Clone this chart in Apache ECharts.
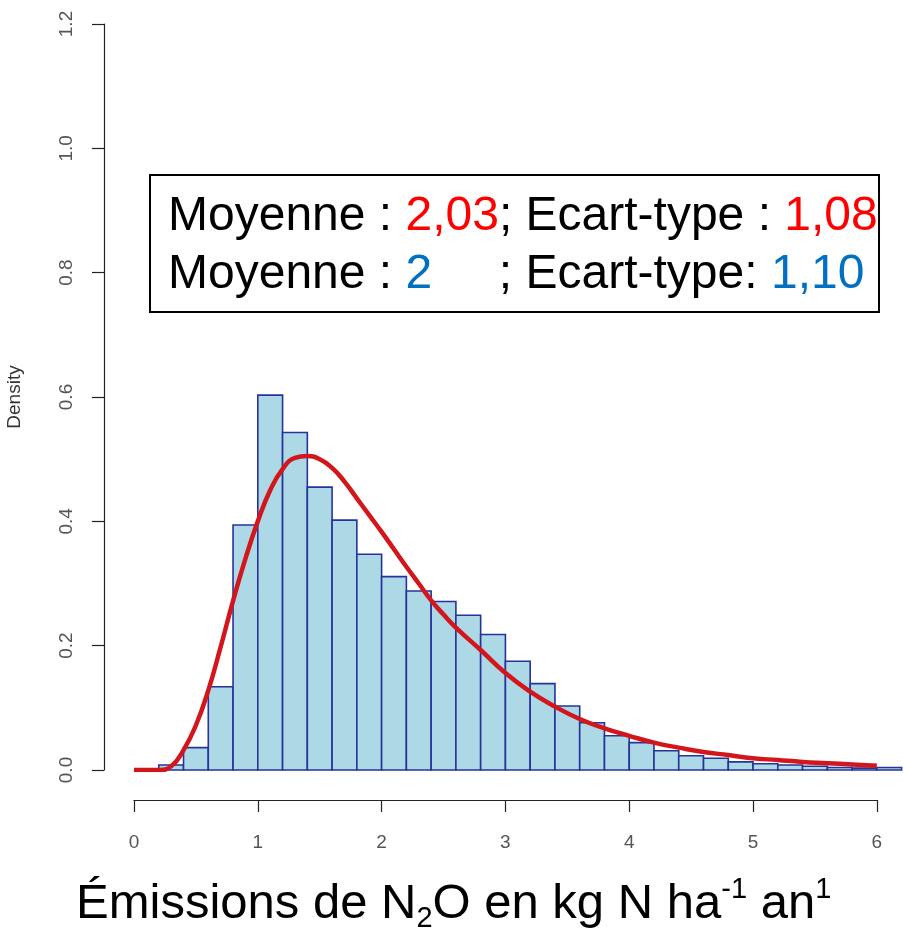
<!DOCTYPE html>
<html>
<head>
<meta charset="utf-8">
<script src="https://cdn.jsdelivr.net/npm/echarts@6/dist/echarts.min.js"></script>
<style>
  html, body { margin: 0; padding: 0; background: #ffffff; }
  #chart { width: 903px; height: 934px; }
</style>
</head>
<body>
<div id="chart"></div>
<script>
// Histogram bins (left edges, width 0.2) and their densities
var binWidth = 0.2;
var binStarts = [0.2, 0.4, 0.6, 0.8, 1.0, 1.2, 1.4, 1.6, 1.8, 2.0,
                 2.2, 2.4, 2.6, 2.8, 3.0, 3.2, 3.4, 3.6, 3.8, 4.0,
                 4.2, 4.4, 4.6, 4.8, 5.0, 5.2, 5.4, 5.6, 5.8, 6.0];
var binDensity = [0.008, 0.036, 0.134, 0.394, 0.603, 0.543, 0.455, 0.402, 0.347, 0.311,
                  0.288, 0.271, 0.249, 0.218, 0.175, 0.139, 0.103, 0.076, 0.055, 0.044,
                  0.031, 0.023, 0.019, 0.013, 0.010, 0.008, 0.006, 0.004, 0.003, 0.004];

// Fitted density curve
var curveX = [0.0, 0.2, 0.3, 0.4, 0.5, 0.6, 0.7, 0.8, 0.9, 1.0,
              1.1, 1.2, 1.3, 1.4, 1.5, 1.6, 1.7, 1.8, 1.9, 2.0,
              2.1, 2.2, 2.3, 2.4, 2.5, 2.6, 2.8, 3.0, 3.2, 3.4, 3.6, 3.8,
              4.0, 4.2, 4.4, 4.6, 4.8, 5.0, 5.2, 5.4, 5.6, 5.8, 6.0];
var curveY = [0.0, 0.0, 0.006, 0.032, 0.072, 0.128, 0.198, 0.272, 0.340, 0.400,
              0.450, 0.484, 0.502, 0.505, 0.500, 0.486, 0.464, 0.437, 0.410, 0.383,
              0.355, 0.327, 0.300, 0.273, 0.250, 0.229, 0.193, 0.156, 0.126, 0.102, 0.082, 0.067,
              0.055, 0.044, 0.036, 0.029, 0.024, 0.019, 0.016, 0.013, 0.011, 0.009, 0.007];

// Axis ticks
var yTicks = [0.0, 0.2, 0.4, 0.6, 0.8, 1.0, 1.2];
var xTicks = [0, 1, 2, 3, 4, 5, 6];

var histData = binStarts.map(function (s, i) { return [s, s + binWidth, binDensity[i]]; });
var curveData = curveX.map(function (x, i) { return [x, curveY[i]]; });

var labelFont = '"Liberation Sans", Arial, sans-serif';

var chart = echarts.init(document.getElementById('chart'), null, { renderer: 'canvas' });

chart.setOption({
  backgroundColor: '#ffffff',
  animation: false,
  title: [
    {
      left: 71,
      top: 870,
      text: 'Émissions de N{sub|2}O en kg N ha{sup|-1} an{sup|1}',
      textStyle: {
        fontFamily: labelFont,
        fontSize: 49,
        fontWeight: 'normal',
        color: '#000000',
        lineHeight: 58,
        rich: {
          sub: { fontFamily: labelFont, fontSize: 29, color: '#000', verticalAlign: 'bottom', lineHeight: 58 },
          sup: { fontFamily: labelFont, fontSize: 29, color: '#000', verticalAlign: 'top', lineHeight: 58 }
        }
      }
    },
    {
      left: 150,
      top: 175,
      borderColor: '#000000',
      borderWidth: 2,
      padding: [13, 2, 8, 18],
      text: '{k|Moyenne : }{r|2,03}{k|; Ecart-type : }{r|1,08}\n{k|Moyenne : }{b|2}{k|     ; Ecart-type: }{b|1,10}',
      textStyle: {
        fontFamily: labelFont,
        fontSize: 48,
        fontWeight: 'normal',
        lineHeight: 58,
        rich: {
          k: { fontFamily: labelFont, fontSize: 48, color: '#000000', lineHeight: 58 },
          r: { fontFamily: labelFont, fontSize: 48, color: '#FF0000', lineHeight: 58 },
          b: { fontFamily: labelFont, fontSize: 48, color: '#0070C0', lineHeight: 58 }
        }
      }
    }
  ],
  grid: [
    { left: 134, top: 24, width: 767.6, height: 746, outerBoundsMode: 'none', containLabel: false },
    { left: 134, top: 799, width: 742.8, height: 1, outerBoundsMode: 'none', containLabel: false }
  ],
  xAxis: [
    { gridIndex: 0, type: 'value', min: 0, max: 6.2, show: false },
    {
      gridIndex: 1, type: 'value', min: 0, max: 6, interval: 1, position: 'bottom',
      splitLine: { show: false },
      axisLine: { show: true, onZero: false, lineStyle: { color: '#222', width: 1.2 } },
      axisTick: { show: true, length: 12, lineStyle: { color: '#222', width: 1.2 } },
      axisLabel: {
        margin: 33, fontFamily: labelFont, fontSize: 19, color: '#555',
        formatter: function (v) { return xTicks.indexOf(v) >= 0 ? String(v) : ''; }
      }
    }
  ],
  yAxis: [
    {
      gridIndex: 0, type: 'value', min: 0, max: 1.2, interval: 0.2, offset: 30,
      splitLine: { show: false },
      axisLine: { show: true, onZero: false, lineStyle: { color: '#222', width: 1.2 } },
      axisTick: { show: true, length: 12, lineStyle: { color: '#222', width: 1.2 } },
      axisLabel: {
        rotate: 90, margin: 28, fontFamily: labelFont, fontSize: 19, color: '#555',
        formatter: function (v) {
          for (var i = 0; i < yTicks.length; i++) {
            if (Math.abs(yTicks[i] - v) < 1e-9) return yTicks[i].toFixed(1);
          }
          return '';
        }
      },
      name: 'Density',
      nameLocation: 'middle',
      nameGap: 80,
      nameRotate: 90,
      nameTextStyle: { fontFamily: labelFont, fontSize: 19, color: '#333' }
    },
    { gridIndex: 1, type: 'value', min: 0, max: 1, show: false }
  ],
  series: [
    {
      type: 'custom',
      xAxisIndex: 0,
      yAxisIndex: 0,
      data: histData,
      encode: { x: [0, 1], y: 2 },
      renderItem: function (params, api) {
        var p0 = api.coord([api.value(0), 0]);
        var p1 = api.coord([api.value(1), api.value(2)]);
        return {
          type: 'rect',
          shape: { x: p0[0], y: p1[1], width: p1[0] - p0[0], height: p0[1] - p1[1] },
          style: { fill: '#ADD8E6', stroke: '#27339A', lineWidth: 1.6 }
        };
      },
      z: 2
    },
    {
      type: 'line',
      xAxisIndex: 0,
      yAxisIndex: 0,
      data: curveData,
      smooth: 0.5,
      showSymbol: false,
      lineStyle: { color: '#D2161B', width: 4.5 },
      z: 3
    },
    {
      type: 'line',
      xAxisIndex: 1,
      yAxisIndex: 1,
      data: [],
      silent: true
    }
  ]
});
</script>
</body>
</html>
